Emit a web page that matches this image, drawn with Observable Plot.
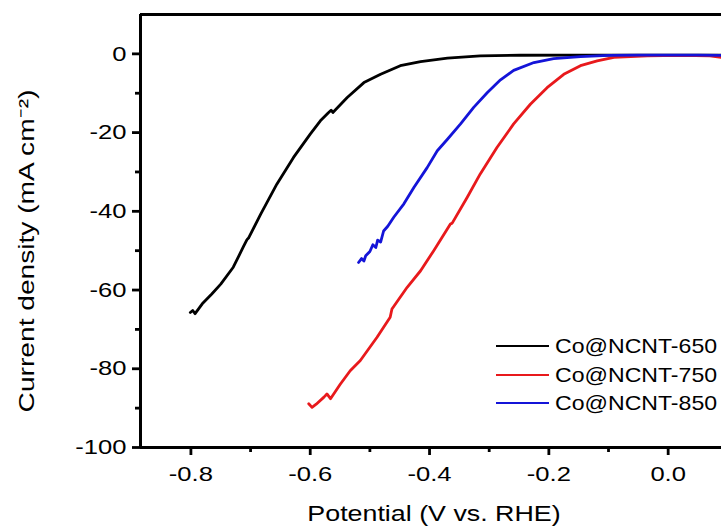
<!DOCTYPE html>
<html><head><meta charset="utf-8">
<script src="https://cdn.jsdelivr.net/npm/d3@7"></script>
<script src="https://cdn.jsdelivr.net/npm/@observablehq/plot@0.6"></script>
<style>
body{margin:0;background:#fff;}
#wrap{position:relative;width:721px;height:530px;}
#legend{position:absolute;left:496px;top:332px;font-family:"Liberation Sans",Arial,sans-serif;font-size:21px;color:#000;}
.row{display:flex;align-items:center;height:28.6px;}
.sw{width:53px;height:0;border-top:2.8px solid;margin-right:6px;}
.lab{display:inline-block;transform:scaleX(1.1);transform-origin:left center;white-space:nowrap;}
</style></head>
<body><div id="wrap"><div id="legend"></div></div>
<script>
// ---- data ----
const seriesNames = ["Co@NCNT-650", "Co@NCNT-750", "Co@NCNT-850"];
const seriesColors = ["#000000", "#e8191c", "#1414d8"];

const x650 = [-0.801, -0.797, -0.793, -0.781, -0.765, -0.750, -0.729, -0.712, -0.706, -0.703, -0.683, -0.656, -0.628, -0.600, -0.583, -0.570, -0.565, -0.562, -0.538, -0.510, -0.482, -0.449, -0.415, -0.370, -0.315, -0.248, -0.150, -0.050, 0.050, 0.089];
const y650 = [-65.7, -65.2, -66.0, -63.5, -61.0, -58.5, -54.2, -49.0, -47.2, -46.7, -40.7, -33.1, -26.3, -20.4, -17.0, -15.0, -14.3, -14.9, -11.1, -7.3, -5.2, -3.0, -1.95, -1.1, -0.5, -0.35, -0.3, -0.3, -0.3, -0.3];

const x750 = [-0.6025, -0.597, -0.590, -0.577, -0.572, -0.566, -0.550, -0.533, -0.516, -0.488, -0.466, -0.463, -0.4375, -0.415, -0.393, -0.365, -0.362, -0.337, -0.315, -0.287, -0.259, -0.231, -0.203, -0.175, -0.147, -0.119, -0.091, -0.035, 0.020, 0.070, 0.089];
const y750 = [-88.9, -89.8, -89.0, -87.2, -86.4, -87.6, -84.0, -80.5, -77.9, -72.0, -66.9, -64.8, -59.3, -55.1, -50.0, -43.2, -43.0, -36.5, -30.5, -23.8, -17.8, -12.8, -8.6, -5.2, -3.0, -1.8, -0.9, -0.5, -0.4, -0.5, -0.9];

const x850 = [-0.519, -0.514, -0.510, -0.507, -0.500, -0.495, -0.490, -0.487, -0.482, -0.477, -0.470, -0.460, -0.443, -0.426, -0.404, -0.387, -0.370, -0.348, -0.326, -0.303, -0.281, -0.259, -0.225, -0.192, -0.147, -0.100, -0.050, 0.000, 0.050, 0.089];
const y850 = [-53.0, -52.0, -52.6, -51.3, -50.2, -48.5, -49.2, -47.3, -47.8, -45.0, -43.8, -41.5, -38.1, -33.9, -28.9, -24.6, -21.7, -17.8, -13.6, -9.8, -6.6, -4.2, -2.2, -1.2, -0.7, -0.4, -0.3, -0.3, -0.3, -0.4];

const xDomain = [-0.8845, 0.0894];
const yDomain = [-100, 10];
const xMajor = [-0.8, -0.6, -0.4, -0.2, 0.0];
const xMinor = [-0.7, -0.5, -0.3, -0.1];
const yMajor = [0, -20, -40, -60, -80, -100];
const yMinor = [-10, -30, -50, -70, -90];
const xTitle = "Potential (V vs. RHE)";
const yTitle = "Current density (mA cm\u207B\u00B2)";

// ---- build ----
const allX = [x650, x750, x850], allY = [y650, y750, y850];
const rows = [];
allX.forEach((xs, s) => xs.forEach((x, i) => rows.push({series: seriesNames[s], x, y: allY[s][i]})));

const plot = Plot.plot({
  width: 721, height: 530,
  marginLeft: 140, marginRight: 0, marginTop: 14, marginBottom: 83,
  style: {fontFamily: "'Liberation Sans', Arial, sans-serif", fontSize: "21px", color: "#000", background: "#fff"},
  x: {domain: xDomain, label: null},
  y: {domain: yDomain, label: null},
  color: {domain: seriesNames, range: seriesColors},
  marks: [
    Plot.axisX(xMajor, {tickSize: 8, tickPadding: 11, strokeWidth: 2.8, fontSize: 21, tickFormat: d => d.toFixed(1), label: null}),
    Plot.axisX(xMinor, {tickSize: 5, strokeWidth: 2.8, tickFormat: () => "", label: null}),
    Plot.axisY(yMajor, {tickSize: 8, tickPadding: 6, strokeWidth: 2.8, fontSize: 21, tickFormat: d => String(d), label: null}),
    Plot.axisY(yMinor, {tickSize: 5, strokeWidth: 2.8, tickFormat: () => "", label: null}),
    Plot.line(rows, {x: "x", y: "y", z: "series", stroke: "series", strokeWidth: 2.8, curve: "linear"}),
    Plot.ruleX([xDomain[0]], {strokeWidth: 3}),
    Plot.ruleY(yDomain, {strokeWidth: 3}),
    Plot.text([xTitle], {frameAnchor: "bottom", dx: 3, dy: 66, textAnchor: "middle", lineAnchor: "middle", fontSize: 22}),
    Plot.text([yTitle], {frameAnchor: "left", rotate: -90, dx: -114, dy: 20, textAnchor: "middle", lineAnchor: "middle", fontSize: 22})
  ]
});
document.getElementById("wrap").prepend(plot);

// widen glyphs along the baseline to match the reference's wide lettering
d3.select(plot).selectAll("text").each(function () {
  if (!this.textContent) return;
  const f = this.textContent.startsWith("Current") ? 1.28 : 1.22;
  const t = this.getAttribute("transform") || "";
  this.setAttribute("transform", `${t} scale(${f},1)`);
});

// legend
const leg = d3.select("#legend");
seriesNames.forEach((n, i) => {
  const r = leg.append("div").attr("class", "row");
  r.append("span").attr("class", "sw").style("border-top-color", seriesColors[i]);
  r.append("span").attr("class", "lab").text(n);
});
</script>
</body></html>
